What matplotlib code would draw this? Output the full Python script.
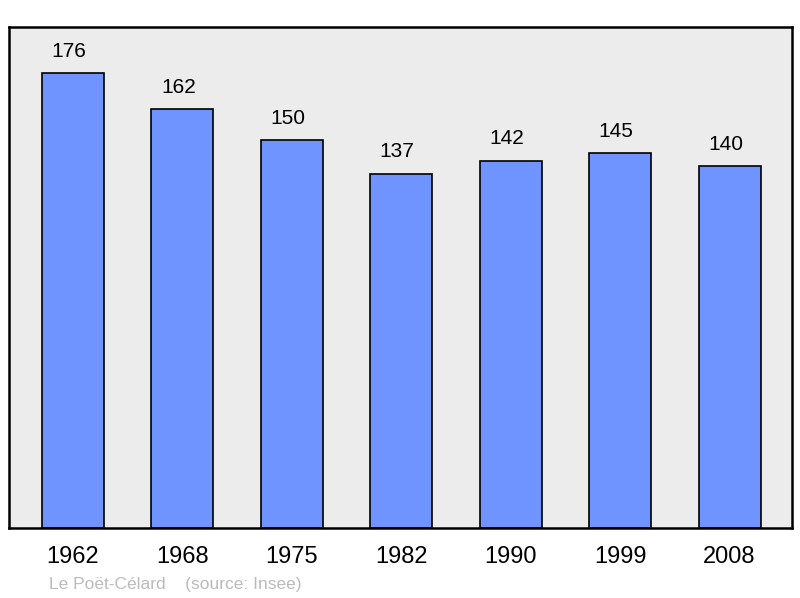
import matplotlib
matplotlib.use('Agg')
from matplotlib import pyplot as plt

years = ['1962', '1968', '1975', '1982', '1990', '1999', '2008']
population = [176, 162, 150, 137, 142, 145, 140]

plt.rcParams['font.family'] = ['Liberation Sans', 'DejaVu Sans']

fig = plt.figure(figsize=(8, 5.98), dpi=100)
ax = fig.add_axes([9 / 800, 70 / 598, 783 / 800, 501 / 598])
ax.set_facecolor('#ececec')

xs = range(len(years))
ax.bar(xs, population, width=0.567, color='#7094ff', edgecolor='black', linewidth=1.2, zorder=2)

for x, v in zip(xs, population):
    ax.annotate(str(v), (x, v), xytext=(-3, 9), textcoords='offset points',
                ha='center', va='bottom', fontsize=15, color='black')

ax.set_xlim(-0.585, 6.57)
ax.set_ylim(0, 193.8)
ax.set_yticks([])
ax.set_xticks(list(xs))
ax.set_xticklabels(years, fontsize=17)
ax.tick_params(axis='x', length=0, pad=13)
for s in ax.spines.values():
    s.set_linewidth(1.8)
    s.set_color('black')

fig.text(49 / 800, 1 - 584 / 598, 'Le Poët-Célard    (source: Insee)',
         fontsize=12.5, color='#bbbbbb', ha='left', va='center')

fig.savefig('out.png', dpi=100)
